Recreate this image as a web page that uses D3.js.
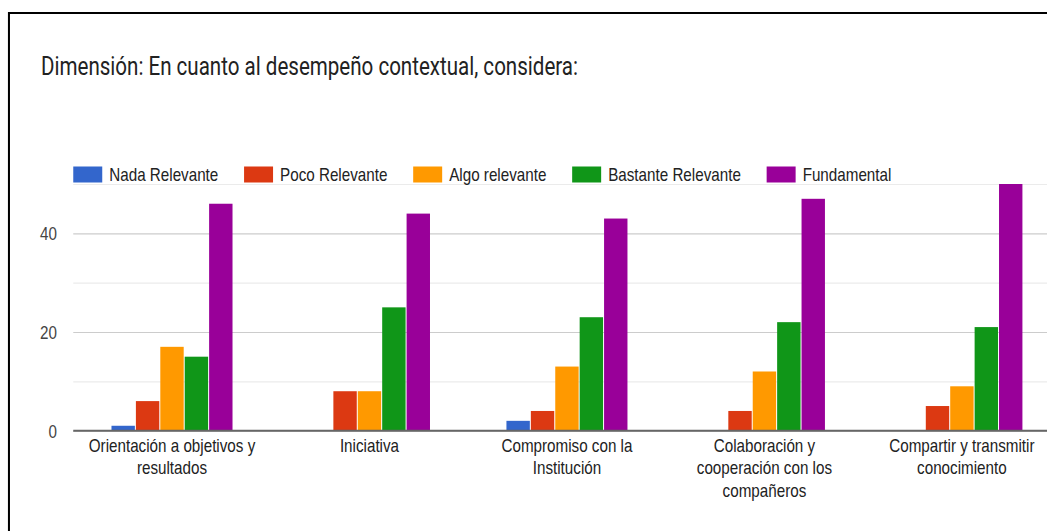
<!DOCTYPE html>
<html>
<head>
<meta charset="utf-8">
<script src="https://cdn.jsdelivr.net/npm/d3@7"></script>
<style>
  html, body { margin: 0; padding: 0; background: #fff; }
  svg { display: block; }
</style>
</head>
<body>
<svg id="chart"></svg>
<script>
// Survey responses per competence, grouped by rating
const categories = [
  "Orientación a objetivos y resultados",
  "Iniciativa",
  "Compromiso con la Institución",
  "Colaboración y cooperación con los compañeros",
  "Compartir y transmitir conocimiento"
];
const categoryLines = [
  ["Orientación a objetivos y", "resultados"],
  ["Iniciativa"],
  ["Compromiso con la", "Institución"],
  ["Colaboración y", "cooperación con los", "compañeros"],
  ["Compartir y transmitir", "conocimiento"]
];
const seriesNames = ["Nada Relevante", "Poco Relevante", "Algo relevante", "Bastante Relevante", "Fundamental"];
const nadaRelevante      = [1, 0, 2, 0, 0];
const pocoRelevante      = [6, 8, 4, 4, 5];
const algoRelevante      = [17, 8, 13, 12, 9];
const bastanteRelevante  = [15, 25, 23, 22, 21];
const fundamental        = [46, 44, 43, 47, 50];
const seriesColors = ["#3366cc", "#dc3912", "#ff9900", "#109618", "#990099"];
const yTickLabels = [0, 20, 40];
const yGridValues = [0, 10, 20, 30, 40, 50];

const seriesValues = [nadaRelevante, pocoRelevante, algoRelevante, bastanteRelevante, fundamental];
const rows = categories.map((c, i) => ({
  category: c,
  values: seriesNames.map((s, j) => ({ series: s, value: seriesValues[j][i], color: seriesColors[j] }))
}));

// Drawing space is laid out wider than the page and squeezed horizontally
const sx = 0.845;
const pageW = 1047, pageH = 531;
const W = pageW / sx, H = pageH;
const svg = d3.select("#chart")
  .attr("width", pageW).attr("height", pageH)
  .attr("viewBox", `0 0 ${W} ${H}`)
  .attr("preserveAspectRatio", "none");

const plotLeft = 86.7, plotStep = 233.7;
const plotRight = plotLeft + plotStep * categories.length;
const yBase = 430.7, yTop = 184;

const x0 = d3.scaleBand().domain(categories).range([plotLeft, plotRight])
  .paddingInner(0.382).paddingOuter(0.191);
const x1 = d3.scaleBand().domain(seriesNames).range([0, x0.bandwidth()]);
const y = d3.scaleLinear().domain([0, 50]).range([yBase, yTop]);

const sans = "Arial, 'Liberation Sans', sans-serif";

// Frame
svg.append("rect").attr("x", 0).attr("y", 0).attr("width", W).attr("height", H).attr("fill", "#fff");
svg.append("line").attr("x1", 9.5).attr("x2", W + 5).attr("y1", 13).attr("y2", 13)
  .attr("stroke", "#000").attr("stroke-width", 2);
svg.append("line").attr("x1", 10.6).attr("x2", 10.6).attr("y1", 12).attr("y2", H + 5)
  .attr("stroke", "#000").attr("stroke-width", 2.4);

// Title
svg.append("text")
  .attr("x", 41 / sx).attr("y", 75)
  .attr("font-family", "Roboto, 'Noto Sans', sans-serif")
  .attr("font-size", 26)
  .attr("fill", "#222")
  .attr("textLength", (578 - 41) / sx)
  .attr("lengthAdjust", "spacingAndGlyphs")
  .text("Dimensión: En cuanto al desempeño contextual, considera:");

// Gridlines
const grid = svg.append("g").attr("transform", `translate(${plotLeft},0)`)
  .call(d3.axisLeft(y).tickValues(yGridValues).tickSize(-(plotRight - plotLeft)).tickFormat(""));
grid.select(".domain").remove();
grid.selectAll(".tick line")
  .attr("stroke", d => (d % 20 === 0 ? "#cccccc" : "#ebebeb"))
  .attr("stroke-width", 1.2);

// Y tick labels
const yAxis = svg.append("g").attr("transform", `translate(${67.5},0)`)
  .call(d3.axisLeft(y).tickValues(yTickLabels).tickSize(0).tickPadding(0));
yAxis.select(".domain").remove();
yAxis.selectAll("text")
  .attr("font-family", sans).attr("font-size", 18).attr("fill", "#444").attr("dy", "0.36em");

// Bars
const groups = svg.append("g").selectAll("g").data(rows).join("g")
  .attr("transform", d => `translate(${x0(d.category)},0)`);
groups.selectAll("rect").data(d => d.values.filter(v => v.value > 0)).join("rect")
  .attr("x", d => x1(d.series) + 0.6)
  .attr("width", x1.bandwidth() - 1.2)
  .attr("y", d => y(d.value))
  .attr("height", d => y(0) - y(d.value))
  .attr("fill", d => d.color);

// Baseline
svg.append("line").attr("x1", plotLeft).attr("x2", plotRight)
  .attr("y1", y(0)).attr("y2", y(0)).attr("stroke", "#666").attr("stroke-width", 2);

// Category labels
const xAxis = svg.append("g");
categories.forEach((c, i) => {
  const t = xAxis.append("text")
    .attr("x", x0(c) + x0.bandwidth() / 2)
    .attr("y", 452)
    .attr("text-anchor", "middle")
    .attr("font-family", sans).attr("font-size", 18).attr("fill", "#222");
  categoryLines[i].forEach((line, k) => {
    t.append("tspan").attr("x", x0(c) + x0.bandwidth() / 2).attr("dy", k === 0 ? 0 : 22.5).text(line);
  });
});

// Legend
const legend = svg.append("g");
let lx = plotLeft;
seriesNames.forEach((s, j) => {
  legend.append("rect")
    .attr("x", lx).attr("y", 166.5).attr("width", 34.3).attr("height", 16)
    .attr("fill", seriesColors[j]);
  const txt = legend.append("text")
    .attr("x", lx + 42.6).attr("y", 181)
    .attr("font-family", sans).attr("font-size", 18).attr("fill", "#222")
    .text(s);
  lx = lx + 42.6 + txt.node().getComputedTextLength() + 30.5;
});
</script>
</body>
</html>
